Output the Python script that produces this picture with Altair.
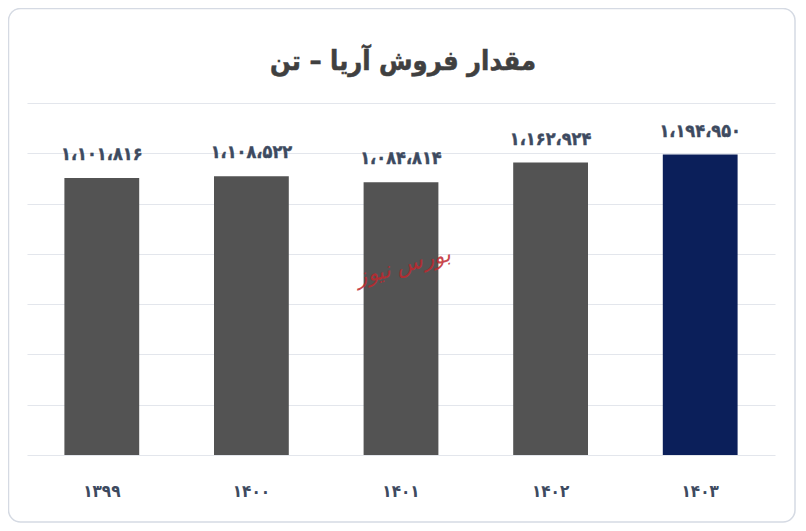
import altair as alt
import pandas as pd

years = ["۱۳۹۹", "۱۴۰۰", "۱۴۰۱", "۱۴۰۲", "۱۴۰۳"]
sales = [1101816, 1108522, 1084814, 1162924, 1194950]
colors = ["#535353", "#535353", "#535353", "#535353", "#0b1f5a"]
title_text = "مقدار فروش آریا – تن"
watermark = "بورس نیوز"

PERSIAN = str.maketrans("0123456789,", "۰۱۲۳۴۵۶۷۸۹،")


def fa(n):
    return f"{n:,}".translate(PERSIAN)


df = pd.DataFrame({
    "year": years,
    "sales": sales,
    "color": colors,
    "label": [fa(v) for v in sales],
})

FONT = "DejaVu Sans Condensed"

x = alt.X("year:N", sort=years, title=None,
          scale=alt.Scale(paddingInner=0.5, paddingOuter=0.25),
          axis=alt.Axis(labelAngle=0, labelFont=FONT, labelFontSize=17,
                        labelFontWeight="bold", labelColor="#3d4a60",
                        labelPadding=28, ticks=False, domain=False, grid=False))
y = alt.Y("sales:Q", title=None,
          scale=alt.Scale(domain=[0, 1400000], nice=False),
          axis=alt.Axis(values=[0, 200000, 400000, 600000, 800000, 1000000, 1200000, 1400000],
                        labels=False, ticks=False, domain=False,
                        gridColor="#e3e6ec", gridWidth=1.2))

frame = alt.Chart(pd.DataFrame({"a": [0]})).mark_rect(
    fill="transparent", stroke="#d5dae3", strokeWidth=1.5, cornerRadius=12
).encode(x=alt.value(-18.5), x2=alt.value(768), y=alt.value(-94.5), y2=alt.value(419))

title = alt.Chart(pd.DataFrame({"t": [title_text]})).mark_text(
    font=FONT, fontSize=27, fontWeight="bold", color="#404040",
    stroke="#404040", strokeWidth=0.5,
    baseline="alphabetic", align="center"
).encode(x=alt.value(376), y=alt.value(-33), text="t:N")

base = alt.Chart(df)

bars = base.mark_bar().encode(
    x=x, y=y, color=alt.Color("color:N", scale=None)
)

labels = base.mark_text(
    font=FONT, fontSize=18, fontWeight="bold", color="#3d4a60",
    stroke="#3d4a60", strokeWidth=0.4,
    baseline="bottom", dy=-14
).encode(x=x, y=y, text="label:N")

wm = alt.Chart(pd.DataFrame({"year": ["۱۴۰۱"], "t": [watermark]})).mark_text(
    font="DejaVu Serif", fontSize=22, fontStyle="italic", color="#c0282e", opacity=0.85,
    angle=345, dx=2
).encode(x=alt.X("year:N", sort=years), y=alt.datum(750000), text="t:N")

chart = alt.layer(frame, title, bars, labels, wm).properties(
    width=748, height=352,
    padding={"left": 19, "top": 95, "right": 23, "bottom": 68},
    autosize=alt.AutoSizeParams(type="none"),
    background="white",
).configure_view(stroke=None)

chart.save("out.html", embed_options={"renderer": "svg", "actions": False})
